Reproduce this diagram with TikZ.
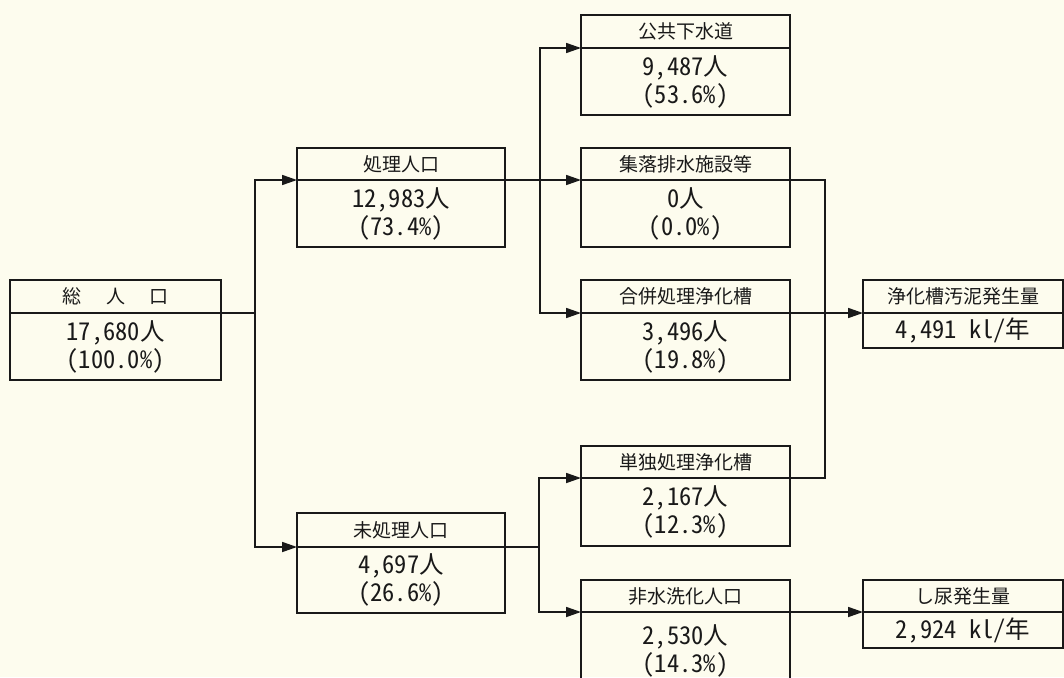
\documentclass[tikz,border=0pt]{standalone}
\usepackage{fontspec}
\setmainfont{Noto Sans CJK JP}
\newfontfamily\numfont{Noto Sans CJK JP}[RawFeature=+hwid]
\usetikzlibrary{arrows.meta}
\definecolor{paper}{RGB}{253,252,238}
\definecolor{ink}{RGB}{25,25,25}
\newcommand\flowbox[8]{%
  \node[hd, minimum width=#4pt, minimum height=#5pt] (#1H) at (#2,#3) {#7};
  \node[bd, minimum width=#4pt, minimum height=#6pt] (#1B) at (#1H.south west) {#8};
}
\begin{document}
\begin{tikzpicture}[x=1pt,y=-1pt,line width=1.7pt,
  hd/.style={draw=ink, anchor=north west, inner sep=0pt, outer sep=0pt, font=\fontsize{19}{22}\selectfont, text=ink},
  bd/.style={draw=ink, anchor=north west, inner sep=0pt, outer sep=0pt, align=center, font=\fontsize{24.5}{28}\selectfont\numfont, text=ink},
  conn/.style={draw=ink, line width=1.7pt},
  arr/.style={conn, -{Triangle[length=15pt,width=10pt]}}]
\fill[paper] (0,0) rectangle (1064,677);
\useasboundingbox (0,0) rectangle (1064,677);

\flowbox{tot}{10}{280}{211}{33}{67}{総\hspace{1.3em}人\hspace{1.3em}口}{17,680人\\(100.0\%)}
\flowbox{sho}{297}{148}{208}{32}{67}{処理人口}{12,983人\\(73.4\%)}
\flowbox{mis}{297}{513}{208}{34}{66}{未処理人口}{4,697人\\(26.6\%)}
\flowbox{kok}{581}{15}{209}{33}{67}{公共下水道}{9,487人\\(53.6\%)}
\flowbox{shu}{581}{148}{209}{32}{67}{集落排水施設等}{0人\\(0.0\%)}
\flowbox{gap}{581}{280}{209}{33}{67}{合併処理浄化槽}{3,496人\\(19.8\%)}
\flowbox{tan}{581}{446}{209}{32}{68}{単独処理浄化槽}{2,167人\\(12.3\%)}
\flowbox{his}{581}{580}{209}{32}{78}{非水洗化人口}{2,530人\\(14.3\%)}
\flowbox{ode}{863}{280}{200}{33}{35}{浄化槽汚泥発生量}{4,491 kl/年}
\flowbox{shi}{863}{580}{200}{32}{36}{し尿発生量}{2,924 kl/年}

\coordinate (jA) at (255,0);
\coordinate (jB) at (540,0);
\coordinate (jC) at (825,0);
\coordinate (jD) at (539,0);

\draw[conn] (totH.south east) -- (totH.south east -| jA);
\draw[arr] (jA |- totH.south east) |- (shoH.south west);
\draw[arr] (jA |- totH.south east) |- (misH.south west);

\draw[arr] (shoH.south east) -- (shuH.south west);
\draw[arr] (jB |- shoH.south east) |- (kokH.south west);
\draw[arr] (jB |- shoH.south east) |- (gapH.south west);

\draw[conn] (shuH.south east) -| (jC |- tanH.south east) -- (tanH.south east);
\draw[arr] (gapH.south east) -- (odeH.south west);

\draw[conn] (misH.south east) -- (misH.south east -| jD);
\draw[arr] (jD |- misH.south east) |- (tanH.south west);
\draw[arr] (jD |- misH.south east) |- (hisH.south west);
\draw[arr] (hisH.south east) -- (shiH.south west);
\end{tikzpicture}
\end{document}
